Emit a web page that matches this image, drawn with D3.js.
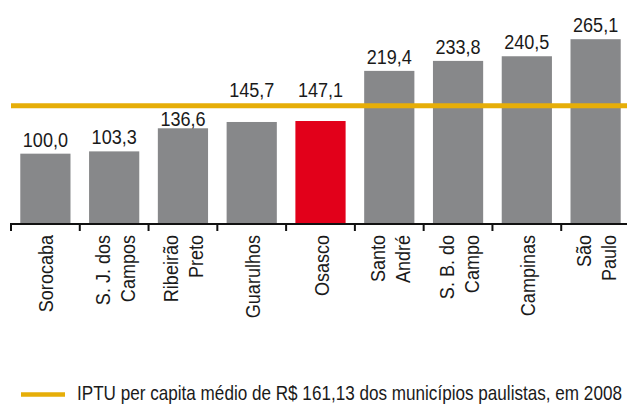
<!DOCTYPE html>
<html>
<head>
<meta charset="utf-8">
<script src="https://cdn.jsdelivr.net/npm/d3@7"></script>
<style>
  body { margin: 0; background: #fff; }
  svg text { font-family: "Liberation Sans", Arial, sans-serif; fill: #1a1a1a; }
</style>
</head>
<body>
<svg id="grafico" width="627" height="404"></svg>
<script>
// Dados
const municipios = [
  ["Sorocaba"], ["S. J. dos", "Campos"], ["Ribeirão", "Preto"], ["Guarulhos"], ["Osasco"],
  ["Santo", "André"], ["S. B. do", "Campo"], ["Campinas"], ["São", "Paulo"]
];
const valores = [100.0, 103.3, 136.6, 145.7, 147.1, 219.4, 233.8, 240.5, 265.1];
const destaque = "Osasco";
// linha da média: posição (texto diz 161,13)
const linhaMedia = 169;
const legendaTexto = "IPTU per capita médio de R$ 161,13 dos municípios paulistas, em 2008";

const cinza = "#87888a";
const vermelho = "#e2001a";
const dourado = "#e6ae08";
const estreito = 0.88; // fonte condensada

const svg = d3.select("#grafico");

const nomes = municipios.map(d => d.join(" "));

const x = d3.scaleBand()
  .domain(nomes)
  .range([11, 630])
  .paddingInner(0.27)
  .paddingOuter(0.135);

const y = d3.scaleLinear()
  .domain([0, 300])
  .range([223, 15]);

// Barras
svg.selectAll(".barra")
  .data(valores)
  .enter().append("rect")
  .attr("class", "barra")
  .attr("x", (d, i) => x(nomes[i]))
  .attr("width", x.bandwidth())
  .attr("y", d => y(d))
  .attr("height", d => y(0) - y(d))
  .attr("fill", (d, i) => nomes[i] === destaque ? vermelho : cinza);

// Linha da média
const yLinha = y(linhaMedia);
svg.append("line")
  .attr("x1", 11)
  .attr("x2", 627)
  .attr("y1", yLinha)
  .attr("y2", yLinha)
  .attr("stroke", dourado)
  .attr("stroke-width", 5);

// Rótulos de valor (evitam a linha)
const alturaDigito = 15;
svg.selectAll(".valor")
  .data(valores)
  .enter().append("text")
  .attr("class", "valor")
  .attr("transform", (d, i) => {
    const cx = x(nomes[i]) + x.bandwidth() / 2;
    let base = y(d) - 7;
    const topoLinha = yLinha - 2.5, baseLinha = yLinha + 2.5;
    if (base - alturaDigito < baseLinha && base > topoLinha) {
      const minimo = y(d) - 1.5;
      if (minimo - alturaDigito >= baseLinha) base = Math.max(base, baseLinha + alturaDigito + 3);
      else base = topoLinha - 6;
    }
    return "translate(" + cx + "," + base + ") scale(" + estreito + ",1)";
  })
  .attr("text-anchor", "middle")
  .style("font-size", "20.5px")
  .text(d => d3.format(".1f")(d).replace(".", ","));

// Eixo
const passo = x.step();
const inicioEixo = x(nomes[0]) - passo * x.paddingInner() / 2;
svg.append("line")
  .attr("x1", inicioEixo).attr("x2", 627)
  .attr("y1", y(0) + 1).attr("y2", y(0) + 1)
  .attr("stroke", "#111").attr("stroke-width", 2);

svg.selectAll(".tick")
  .data(nomes)
  .enter().append("line")
  .attr("class", "tick")
  .attr("x1", d => x(d) - passo * x.paddingInner() / 2)
  .attr("x2", d => x(d) - passo * x.paddingInner() / 2)
  .attr("y1", y(0))
  .attr("y2", y(0) + 8)
  .attr("stroke", "#111").attr("stroke-width", 2);

// Nomes dos municípios (rotacionados)
const rotulos = svg.selectAll(".categoria")
  .data(municipios)
  .enter().append("text")
  .attr("class", "categoria")
  .attr("text-anchor", "end")
  .style("font-size", "20.5px")
  .attr("transform", (d, i) => {
    const cx = x(nomes[i]) + x.bandwidth() / 2;
    return "translate(" + (cx + 8) + ",235) rotate(-90) scale(" + estreito + ",1)";
  });

rotulos.selectAll("tspan")
  .data(d => d.map((linha, j) => ({ linha, j, n: d.length })))
  .enter().append("tspan")
  .attr("x", 0)
  .attr("y", d => (d.j - (d.n - 1) / 2) * 25)
  .text(d => d.linha);

// Legenda
svg.append("line")
  .attr("x1", 21).attr("x2", 65)
  .attr("y1", 394.5).attr("y2", 394.5)
  .attr("stroke", dourado).attr("stroke-width", 4.5);

const legenda = svg.append("text")
  .attr("x", 0)
  .attr("y", 0)
  .style("font-size", "20px")
  .text(legendaTexto);
const largura = legenda.node().getComputedTextLength();
legenda.attr("transform", "translate(77,399.5) scale(" + (545 / largura) + ",1)");
</script>
</body>
</html>
